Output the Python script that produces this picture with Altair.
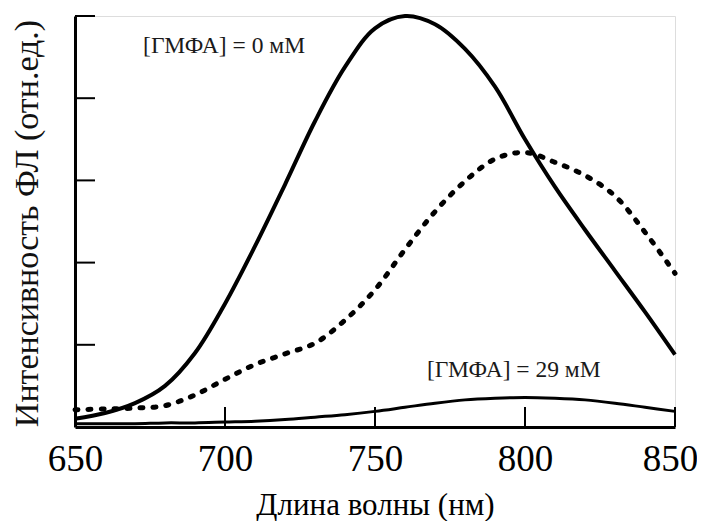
import altair as alt
import pandas as pd

# Wavelengths (nm)
wl = [650, 660, 670, 680, 690, 700, 710, 720, 730, 740, 750,
      760, 770, 780, 790, 800, 810, 820, 830, 840, 850]
# [ГМФА] = 0 мМ (solid)
fl_0 = [0.10, 0.17, 0.29, 0.50, 0.90, 1.50, 2.20, 2.95, 3.72, 4.38, 4.85,
        5.00, 4.90, 4.60, 4.14, 3.50, 2.92, 2.40, 1.90, 1.40, 0.88]
# intermediate (dotted)
fl_mid = [0.21, 0.22, 0.23, 0.26, 0.39, 0.58, 0.76, 0.89, 1.02, 1.30, 1.67,
          2.16, 2.62, 2.99, 3.26, 3.34, 3.22, 3.06, 2.81, 2.37, 1.87]
# [ГМФА] = 29 мМ (solid, low)
fl_29 = [0.04, 0.04, 0.04, 0.05, 0.05, 0.06, 0.07, 0.09, 0.12, 0.15, 0.19,
         0.24, 0.29, 0.33, 0.35, 0.36, 0.35, 0.33, 0.29, 0.24, 0.19]

x_ticks = [650, 700, 750, 800, 850]
y_ticks = [1, 2, 3, 4, 5]

ann_text = ["[ГМФА] = 0 мМ", "[ГМФА] = 29 мМ"]
ann_wl = [672.7, 767.3]
ann_v = [4.55, 0.61]

FONT = "Liberation Serif"

xs = alt.Scale(domain=[650, 850], nice=False, zero=False)
ys = alt.Scale(domain=[0, 5], nice=False, zero=True)

xaxis = alt.Axis(
    values=x_ticks, format="d", ticks=False, tickSize=0, grid=False,
    domain=True, domainColor="black", domainWidth=3,
    labelFont=FONT, labelFontSize=37, labelColor="black",
    labelBaseline="alphabetic", labelPadding=43, labelFlush=False,
    labelOffset={"condition": {"test": "datum.value == 850", "value": -5}, "value": 0},
    title="Длина волны (нм)", titleFont=FONT, titleFontSize=31,
    titleFontWeight="normal", titleColor="black",
    titleBaseline="alphabetic", titleAlign="center", titleX=300, titleY=87,
)
yaxis = alt.Axis(
    labels=False, ticks=False, tickSize=0, grid=False,
    domain=True, domainColor="black", domainWidth=3,
    title="Интенсивность ФЛ (отн.ед.)", titleFont=FONT, titleFontSize=34,
    titleFontWeight="normal", titleColor="#111111",
    titleAngle=270, titleBaseline="alphabetic", titleAlign="center",
    titleX=-38, titleY=207,
)

X = alt.X("wl:Q", scale=xs, axis=xaxis)
Y = alt.Y("v:Q", scale=ys, axis=yaxis)

d0 = pd.DataFrame({"wl": wl, "v": fl_0})
dm = pd.DataFrame({"wl": wl, "v": fl_mid})
d29 = pd.DataFrame({"wl": wl, "v": fl_29})

l0 = alt.Chart(d0).mark_line(color="black", strokeWidth=4, interpolate="catmull-rom").encode(x=X, y=Y)
lm = alt.Chart(dm).mark_line(color="black", strokeWidth=5, strokeDash=[3, 10],
                             strokeCap="round", interpolate="catmull-rom").encode(x=X, y=Y)
l29 = alt.Chart(d29).mark_line(color="black", strokeWidth=3, interpolate="catmull-rom").encode(x=X, y=Y)

xt = alt.Chart(pd.DataFrame({"wl": x_ticks})).mark_rule(color="black", strokeWidth=2).encode(
    x=X, y=alt.value(411), y2=alt.value(391))
yt = alt.Chart(pd.DataFrame({"v": y_ticks})).mark_rule(color="black", strokeWidth=2).encode(
    y=Y, x=alt.value(0), x2=alt.value(20))

ann = alt.Chart(pd.DataFrame({"wl": ann_wl, "v": ann_v, "t": ann_text})).mark_text(
    font=FONT, fontSize=23.5, color="#1a1a1a", align="left", baseline="alphabetic"
).encode(x=X, y=Y, text="t:N")

chart = alt.layer(lm, l0, l29, xt, yt, ann).properties(
    width=600, height=411,
    autosize=alt.AutoSizeParams(type="none"),
    padding={"left": 67, "top": 8, "right": 22, "bottom": 94},
).configure_view(stroke=None).configure(background="white")

chart.save("out.html", embed_options={"renderer": "svg", "actions": False})
